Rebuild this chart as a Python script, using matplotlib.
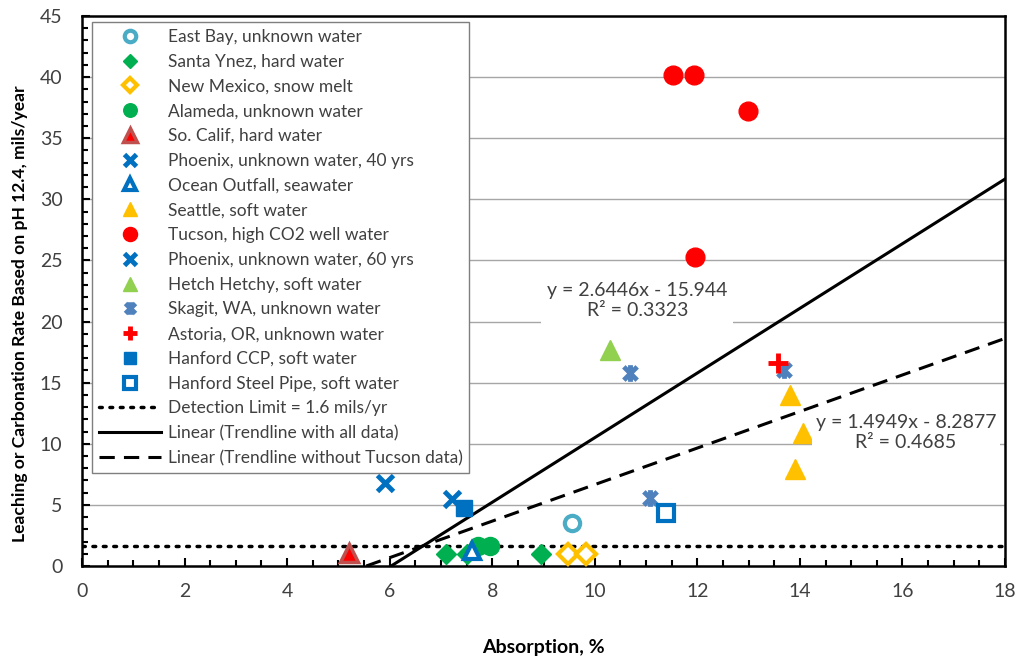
import numpy as np
import matplotlib
matplotlib.use("Agg")
import matplotlib.pyplot as plt
from matplotlib.path import Path
from matplotlib.ticker import MultipleLocator

plt.rcParams['font.family'] = ['Lato', 'DejaVu Sans']

# ---------------- data ----------------
east_bay_x = [9.55];            east_bay_y = [3.5]
santa_ynez_x = [7.1, 7.5, 8.95]; santa_ynez_y = [1.0, 1.0, 1.0]
new_mexico_x = [9.48, 9.83];    new_mexico_y = [1.0, 1.0]
alameda_x = [7.72, 7.96];       alameda_y = [1.6, 1.6]
so_calif_x = [5.2];             so_calif_y = [1.1]
phoenix40_x = [5.9];            phoenix40_y = [6.8]
ocean_x = [7.6];                ocean_y = [1.2]
seattle_x = [13.8, 14.06, 13.9]; seattle_y = [14.0, 10.9, 7.9]
tucson_x = [11.53, 11.93, 12.99, 11.95]; tucson_y = [40.2, 40.2, 37.2, 25.3]
phoenix60_x = [7.22];           phoenix60_y = [5.5]
hetch_x = [10.3];               hetch_y = [17.7]
skagit_x = [10.69, 13.69, 11.08]; skagit_y = [15.8, 16.0, 5.6]
astoria_x = [13.57];            astoria_y = [16.6]
hanford_ccp_x = [7.45];         hanford_ccp_y = [4.75]
hanford_pipe_x = [11.39];       hanford_pipe_y = [4.3]

detection_limit = 1.6
fit_all = (2.6446, -15.944, 0.3323)
fit_no_tucson = (1.4949, -8.2877, 0.4685)

x_ticks = list(range(0, 19, 2))
y_ticks = list(range(0, 46, 5))

# ---------------- figure ----------------
fig = plt.figure(figsize=(10.2, 6.59), dpi=100)
ax = fig.add_axes([82/1020, 1-566/659, (1005-82)/1020, (566-16)/659])
ax.set_xlim(0, 18)
ax.set_ylim(0, 45)

for yv in y_ticks[1:-1]:
    ax.axhline(yv, color='#A6A6A6', lw=1.0, zorder=0)

star = Path([(-1, -1), (1, 1), (-1, 1), (1, -1), (0, -1.25), (0, 1.25)],
            [Path.MOVETO, Path.LINETO, Path.MOVETO, Path.LINETO, Path.MOVETO, Path.LINETO])

blue = '#0070C0'
series = [
    (east_bay_x, east_bay_y, 'East Bay, unknown water',
     dict(marker='o', ms=11, mfc='white', mec='#4BACC6', mew=3)),
    (santa_ynez_x, santa_ynez_y, 'Santa Ynez, hard water',
     dict(marker='D', ms=10, mfc='#00B050', mec='#00B050', mew=1)),
    (new_mexico_x, new_mexico_y, 'New Mexico, snow melt',
     dict(marker='D', ms=10, mfc='white', mec='#FFC000', mew=3)),
    (alameda_x, alameda_y, 'Alameda, unknown water',
     dict(marker='o', ms=13, mfc='#00B050', mec='#00B050', mew=1)),
    (so_calif_x, so_calif_y, 'So. Calif, hard water',
     dict(marker='^', ms=13, mfc='#FF0000', mec='#C0504D', mew=2.5)),
    (phoenix40_x, phoenix40_y, 'Phoenix, unknown water, 40 yrs',
     dict(marker='x', ms=11, mfc=blue, mec=blue, mew=3.5)),
    (ocean_x, ocean_y, 'Ocean Outfall, seawater',
     dict(marker='^', ms=12, mfc='white', mec=blue, mew=3)),
    (seattle_x, seattle_y, 'Seattle, soft water',
     dict(marker='^', ms=14, mfc='#FFC000', mec='#FFC000', mew=1)),
    (tucson_x, tucson_y, 'Tucson, high CO2 well water',
     dict(marker='o', ms=13.5, mfc='#FF0000', mec='#FF0000', mew=1)),
    (phoenix60_x, phoenix60_y, 'Phoenix, unknown water, 60 yrs',
     dict(marker='x', ms=11, mfc=blue, mec=blue, mew=3.5)),
    (hetch_x, hetch_y, 'Hetch Hetchy, soft water',
     dict(marker='^', ms=14, mfc='#92D050', mec='#92D050', mew=1)),
    (skagit_x, skagit_y, 'Skagit, WA, unknown water',
     dict(marker=star, ms=12, mfc='#4F81BD', mec='#4F81BD', mew=3.5)),
    (astoria_x, astoria_y, 'Astoria, OR, unknown water',
     dict(marker='+', ms=14, mfc='#FF0000', mec='#FF0000', mew=3.5)),
    (hanford_ccp_x, hanford_ccp_y, 'Hanford CCP, soft water',
     dict(marker='s', ms=12, mfc=blue, mec=blue, mew=1)),
    (hanford_pipe_x, hanford_pipe_y, 'Hanford Steel Pipe, soft water',
     dict(marker='s', ms=11, mfc='white', mec=blue, mew=3)),
]

for xs, ys, lab, st in series:
    ax.plot(xs, ys, ls='none', label=lab, zorder=3, **st)

ax.plot([0, 18], [detection_limit, detection_limit], color='black', lw=2.5,
        ls=(0, (0.8, 2.2)), dash_capstyle='round',
        label='Detection Limit = 1.6 mils/yr', zorder=2)

for (m, b, r2), ls, lab in [(fit_all, '-', 'Linear (Trendline with all data)'),
                            (fit_no_tucson, (0, (5, 3)), 'Linear (Trendline without Tucson data)')]:
    xs = np.array([-b / m, 18.0])
    ax.plot(xs, m * xs + b, color='black', lw=2.2, ls=ls, label=lab, zorder=2)

ax.text(10.83, 21.73, 'y = 2.6446x - 15.944\nR² = 0.3323', ha='center', va='center',
        fontsize=14, color='#404040', linespacing=1.2, zorder=4,
        bbox=dict(boxstyle='square,pad=0.3', fc='white', ec='none'))
ax.text(16.07, 10.92, 'y = 1.4949x - 8.2877\nR² = 0.4685', ha='center', va='center',
        fontsize=14, color='#404040', linespacing=1.2, zorder=4,
        bbox=dict(boxstyle='square,pad=0.2', fc='white', ec='none'))

ax.set_xticks(x_ticks)
ax.set_yticks(y_ticks)
ax.xaxis.set_minor_locator(MultipleLocator(0.5))
ax.yaxis.set_minor_locator(MultipleLocator(1))
ax.tick_params(which='both', direction='in', width=1.5, colors='black',
               labelsize=14, labelcolor='#404040')
ax.tick_params(which='major', length=6)
ax.tick_params(which='minor', length=4)
ax.tick_params(axis='x', which='major', pad=12)
ax.tick_params(axis='y', which='major', pad=14)
for sp in ax.spines.values():
    sp.set_linewidth(1.8)
    sp.set_color('black')

ax.set_xlabel('Absorption, %', fontsize=14, fontweight='bold', labelpad=28)
ax.set_ylabel('Leaching or Carbonation Rate Based on pH 12.4, mils/year',
              fontsize=12.6, fontweight='bold')
ax.yaxis.set_label_coords(-0.0585, 0.458)

leg = ax.legend(loc='upper left', bbox_to_anchor=(92/1020, 1-22/659),
                bbox_transform=fig.transFigure, borderaxespad=0,
                fontsize=12.5, markerscale=0.75, handlelength=3.6, handletextpad=0.35,
                labelspacing=0.505, borderpad=0.4, frameon=True, fancybox=False,
                framealpha=1, edgecolor='#7F7F7F')
leg.get_frame().set_linewidth(1.0)
for t in leg.get_texts():
    t.set_color('#404040')

fig.savefig('out.png', dpi=100)
